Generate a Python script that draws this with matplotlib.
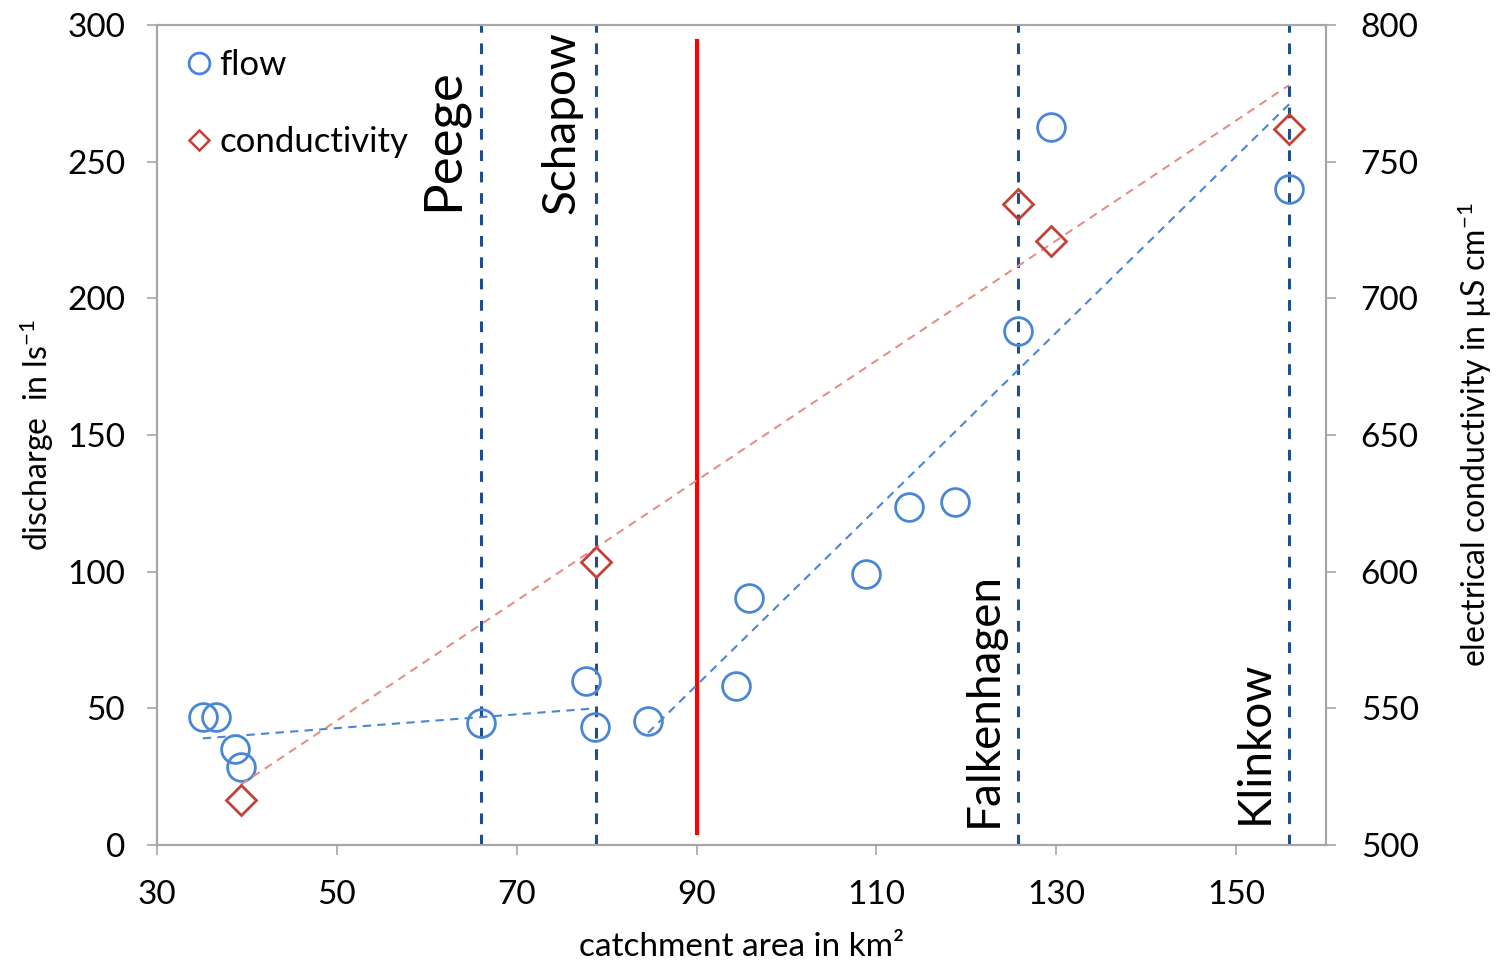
import matplotlib.pyplot as plt
from matplotlib.lines import Line2D

# catchment area (km²) vs discharge (l/s)
flow_area = [35.1, 36.6, 38.7, 39.3, 66.0, 77.7, 78.7, 84.6, 94.4, 95.8, 108.9, 113.6, 118.7, 125.8, 129.4, 155.9]
flow_q    = [47, 47, 35, 28.5, 44.5, 60, 43, 45.5, 58, 90.5, 99, 123.5, 125.5, 188, 262.5, 240]

# catchment area (km²) vs electrical conductivity (µS/cm)
cond_area = [39.3, 78.8, 125.8, 129.4, 155.9]
cond_ec   = [516.5, 603.5, 734.5, 721, 762]

# trend lines (end points)
flow_trend1_x = [35.1, 78.8]
flow_trend1_y = [39, 50]
flow_trend2_x = [84.6, 155.9]
flow_trend2_y = [41, 271]
cond_trend_x  = [39.3, 155.9]
cond_trend_y  = [522, 778]

# gauging stations
stations   = ['Peege', 'Schapow', 'Falkenhagen', 'Klinkow']
station_x  = [66.0, 78.8, 125.8, 155.9]
label_y    = [232, 231, 6.5, 7.5]
label_size = [38, 33, 33, 33]
red_line_x = 90

BLUE  = '#4a86d6'
RED   = '#c0433a'
NAVY  = '#1f4e8c'
GREY  = '#a6a6a6'

plt.rcParams['font.family'] = ['Lato', 'DejaVu Sans']
plt.rcParams['mathtext.fontset'] = 'custom'
plt.rcParams['mathtext.rm'] = 'Lato'
plt.rcParams['mathtext.it'] = 'Lato'

fig = plt.figure(figsize=(14.99, 9.6), dpi=100)
ax = fig.add_axes([0.1047, 0.1198, 0.7799, 0.8542])
ax2 = ax.twinx()

# station markers
for x in station_x:
    ax.plot([x, x], [0, 300], color=NAVY, lw=2.2, dashes=(3.5, 3.5), zorder=1)
for name, x, y, fs in zip(stations, station_x, label_y, label_size):
    ax.text(x - 1.5, y, name, rotation=90, ha='right', va='bottom', fontsize=fs)

ax.plot([red_line_x, red_line_x], [4.5, 294], color='red', lw=3, zorder=2)

# trend lines
ax.plot(flow_trend1_x, flow_trend1_y, color=BLUE, lw=1.5, dashes=(4, 3))
ax.plot(flow_trend2_x, flow_trend2_y, color=BLUE, lw=1.5, dashes=(4, 3))
ax2.plot(cond_trend_x, cond_trend_y, color='#e39089', lw=1.5, dashes=(4, 3))

# data points
ax.plot(flow_area, flow_q, 'o', ms=20, mfc='none', mec=BLUE, mew=2, zorder=3)
ax2.plot(cond_area, cond_ec, 'D', ms=15, mfc='none', mec=RED, mew=2, zorder=3)

ax.set_xlim(30, 160)
ax.set_ylim(0, 300)
ax2.set_ylim(500, 800)
ax.set_xticks(range(30, 151, 20))
ax.set_yticks(range(0, 301, 50))
ax2.set_yticks(range(500, 801, 50))

for a in (ax, ax2):
    for s in a.spines.values():
        s.set_color(GREY)
        s.set_linewidth(1.5)
    a.tick_params(colors=GREY, labelcolor='black', labelsize=24, width=1.2, length=7, direction='out')
ax.tick_params(axis='y', pad=16)
ax2.tick_params(axis='y', pad=18)
ax.tick_params(axis='x', pad=18)

ax.set_xlabel('catchment area in km²', fontsize=24, labelpad=16)
ax.set_ylabel('discharge  in ls$^{-1}$', fontsize=23, labelpad=8)
ax2.set_ylabel('electrical conductivity in µS cm$^{-1}$', fontsize=23, labelpad=26)

handles = [
    Line2D([], [], ls='none', marker='o', ms=15, mfc='none', mec=BLUE, mew=2),
    Line2D([], [], ls='none', marker='D', ms=10, mfc='none', mec=RED, mew=1.8),
]
ax.legend(handles, ['flow', 'conductivity'], loc='upper left', frameon=False,
          fontsize=25, labelspacing=1.3, handletextpad=0.1, handlelength=1.0,
          borderaxespad=0.3, bbox_to_anchor=(0.0, 1.0))

fig.savefig('out.png', dpi=100)
